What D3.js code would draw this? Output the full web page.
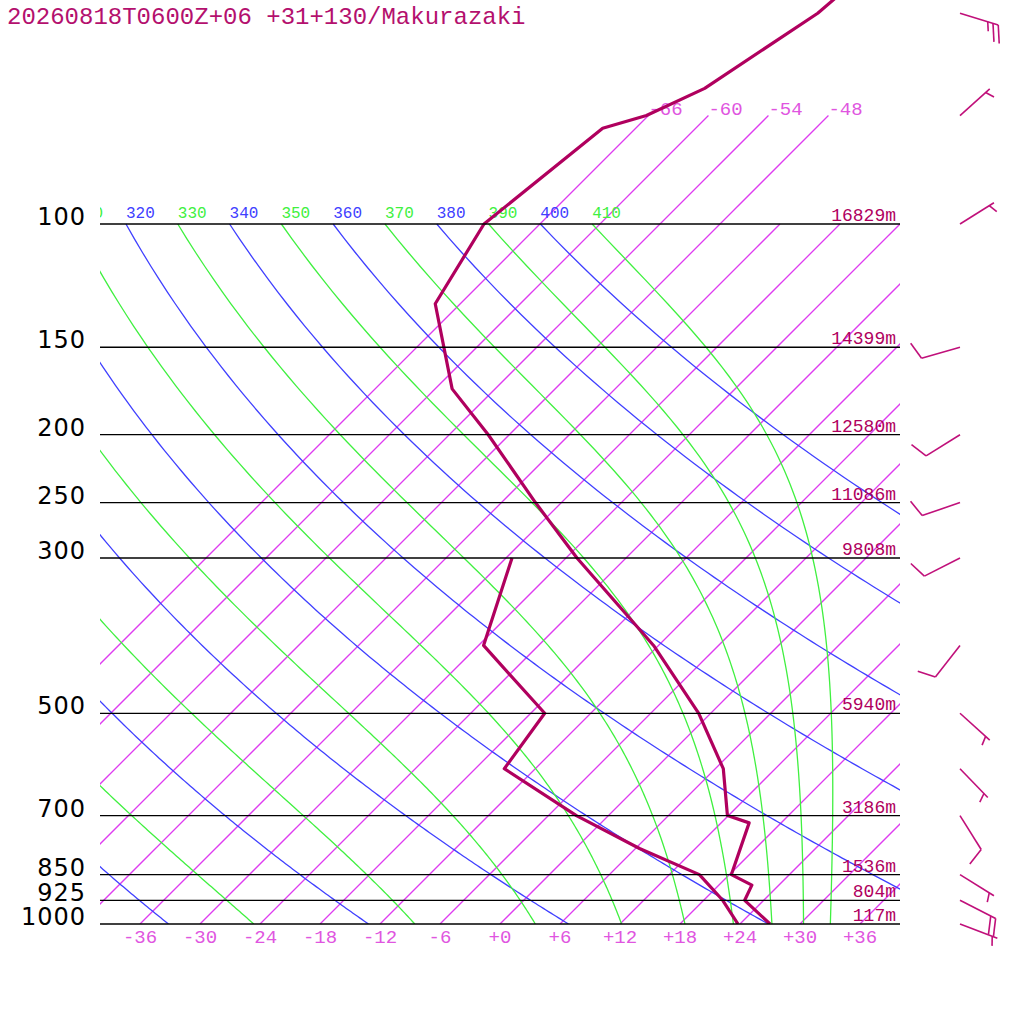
<!DOCTYPE html>
<html>
<head>
<meta charset="utf-8">
<script src="https://cdn.jsdelivr.net/npm/d3@7"></script>
<style>
  body { margin: 0; background: #fff; }
  text { font-family: "Liberation Mono", monospace; }
</style>
</head>
<body>
<div id="chart"></div>
<script>
// sounding data
const title = "20260818T0600Z+06 +31+130/Makurazaki";

const tempP = [1000, 925, 880, 850, 717, 700, 600, 500, 400, 300, 250, 200, 172, 130, 100, 73, 70, 64, 50, 30];
const tempT = [27.0, 22.1, 21.3, 18.2, 14.8, 11.9, 6.8, -1.2, -12.5, -28.9, -38.6, -50.1, -58.3, -68.5, -71.6, -69.3, -66.2, -63.1, -59.3, -56.8];

const dewP = [1000, 925, 850, 780, 700, 600, 500, 400, 300];
const dewT = [23.8, 19.9, 15.0, 6.4, -3.2, -15.1, -16.6, -29.5, -35.4];

const windP   = [1000, 925, 850, 700, 600, 500, 400, 300, 250, 200, 150, 100, 70, 50];
const windDir = [111, 117, 122, 148, 136, 132, 218, 243, 251, 238, 254, 58, 48, 107];
const windSpd = [5, 20, 5, 10, 5, 5, 10, 10, 10, 10, 10, 5, 5, 25];

// pressure lines and heights
const pLevels = [1000, 925, 850, 700, 500, 300, 250, 200, 150, 100];
const heights = ["117m", "804m", "1536m", "3186m", "5940m", "9808m", "11086m", "12580m", "14399m", "16829m"];

// background lines
const tempTicks = [-36, -30, -24, -18, -12, -6, 0, 6, 12, 18, 24, 30, 36];
const isotherms = [-66, -60, -54, -48, -42, -36, -30, -24, -18, -12, -6, 0, 6, 12, 18, 24, 30, 36];
const isoTop = [-66, -60, -54, -48];
const dryThetas = [240, 260, 280, 300, 320, 340, 360, 380, 400];
const moistThetas = [250, 270, 290, 310, 330, 350, 370, 390, 410];

const colCurve = "rgb(176, 0, 94)", colIso = "rgb(222, 60, 240)", colIsoTxt = "rgb(224, 85, 224)";
const colDry = "rgb(64, 64, 255)", colMoist = "rgb(64, 240, 64)", colBarb = "rgb(192, 16, 122)";

const W = 1024, H = 1024;
const left = 100, right = 900, bottom = 924, top100 = 224;

const svg = d3.select("#chart").append("svg")
    .attr("width", W).attr("height", H);

// 比例尺: log pressure, skewed temperature
const y = d3.scaleLog().domain([1000, 100]).range([bottom, top100]);
const xT = d3.scaleLinear().domain([-40, 40]).range([100, 900]);
const sx = (T, p) => xT(T) + (bottom - y(p));

const pathGen = d3.line().x(d => sx(d[1], d[0])).y(d => y(d[0]));

svg.append("clipPath").attr("id", "plot")
    .append("rect").attr("x", left).attr("y", -2000).attr("width", right - left).attr("height", 2000 + bottom);

const g = svg.append("g").attr("clip-path", "url(#plot)");

// isotherms
isotherms.forEach(t => {
    const pTop = isoTop.includes(t) ? 70 : 100;
    g.append("line")
        .attr("x1", sx(t, 1000)).attr("y1", y(1000))
        .attr("x2", sx(t, pTop)).attr("y2", y(pTop))
        .attr("stroke", colIso).attr("stroke-width", 1.3);
});
isoTop.forEach(t => {
    g.append("text").attr("x", sx(t, 70)).attr("y", y(70) - 1)
        .attr("font-size", 19).attr("fill", colIsoTxt)
        .text(t > 0 ? "+" + t : t);
});

// dry adiabats
const kappa = 0.2857;
const pSteps = d3.range(100, 1000.1, 5);
dryThetas.forEach(th => {
    const pts = pSteps.map(p => [p, th * Math.pow(p / 1000, kappa) - 273.15]);
    g.append("path").datum(pts).attr("d", pathGen).attr("fill", "none")
        .attr("stroke", colDry).attr("stroke-width", 1.3);
    const lx = sx(pts[0][1], 100);
    if (lx > 60) {
        g.append("text").attr("x", lx).attr("y", top100 - 6)
            .attr("font-size", 16).attr("fill", colDry).text(th);
    }
});

// moist adiabats, integrated downward from 100 hPa
function lapse(p, T) {
    const Tc = T - 273.15;
    const es = 6.112 * Math.exp(17.67 * Tc / (Tc + 243.5));
    const rs = 0.622 * es / (p - es);
    const Lv = 2.501e6, Rd = 287.04, Cp = 1005.7;
    return (Rd * T + Lv * rs) / (p * (Cp + Lv * Lv * rs * 0.622 / (Rd * T * T)));
}
moistThetas.forEach(th => {
    let T = th * Math.pow(0.1, kappa);
    const pts = [[100, T - 273.15]];
    const dp = 1;
    for (let p = 100; p < 1000; p += dp) {
        const k1 = lapse(p, T);
        const k2 = lapse(p + dp, T + k1 * dp);
        T += (k1 + k2) / 2 * dp;
        if ((p + dp) % 5 === 0) pts.push([p + dp, T - 273.15]);
    }
    g.append("path").datum(pts).attr("d", pathGen).attr("fill", "none")
        .attr("stroke", colMoist).attr("stroke-width", 1.3);
    const lx = sx(pts[0][1], 100);
    if (lx > 60) {
        g.append("text").attr("x", lx).attr("y", top100 - 6)
            .attr("font-size", 16).attr("fill", colMoist).text(th);
    }
});

// pressure lines
pLevels.forEach((p, i) => {
    svg.append("line").attr("x1", left).attr("x2", right)
        .attr("y1", y(p)).attr("y2", y(p))
        .attr("stroke", "#000").attr("stroke-width", 1.3);
    svg.append("text").attr("x", 86).attr("y", y(p) + 1)
        .attr("text-anchor", "end").attr("font-size", 24)
        .style("font-family", "'DejaVu Sans', sans-serif")
        .style("letter-spacing", "1px")
        .attr("fill", "#000").text(p);
    svg.append("text").attr("x", 896).attr("y", y(p) - 3)
        .attr("text-anchor", "end").attr("font-size", 18)
        .attr("fill", colCurve).text(heights[i]);
});

// temperature tick labels
tempTicks.forEach(t => {
    svg.append("text").attr("x", xT(t)).attr("y", bottom + 19)
        .attr("text-anchor", "middle").attr("font-size", 19)
        .attr("fill", colIsoTxt).text(t >= 0 ? "+" + t : t);
});

// sounding curves
const curves = g.append("g").attr("fill", "none").attr("stroke", colCurve)
    .attr("stroke-width", 3.2).attr("stroke-linejoin", "round");
curves.append("path").datum(tempP.map((p, i) => [p, tempT[i]])).attr("d", pathGen);
curves.append("path").datum(dewP.map((p, i) => [p, dewT[i]])).attr("d", pathGen);

// wind barbs
const bx = 960, staff = 40, step = 5.5, full = 18.5, half = 9.5;
windP.forEach((p, i) => {
    const a = windDir[i] * Math.PI / 180;
    const ux = Math.sin(a), uy = -Math.cos(a);
    const y0 = y(p);
    const tx = bx + ux * staff, ty = y0 + uy * staff;
    const wg = svg.append("g").attr("stroke", colBarb).attr("stroke-width", 1.6).attr("fill", "none");
    wg.append("line").attr("x1", bx).attr("y1", y0).attr("x2", tx).attr("y2", ty);
    const ang = Math.atan2(uy, ux) + 70 * Math.PI / 180;
    const bxd = Math.cos(ang), byd = Math.sin(ang);
    const s = windSpd[i];
    const nFull = Math.floor(s / 10), nHalf = Math.round((s % 10) / 5);
    let k = nFull === 0 ? 1 : 0;
    for (let j = 0; j < nFull + nHalf; j++) {
        const len = j < nFull ? full : half;
        const px = tx - ux * step * k, py = ty - uy * step * k;
        wg.append("line").attr("x1", px).attr("y1", py)
            .attr("x2", px + bxd * len).attr("y2", py + byd * len);
        k++;
    }
});

// title
svg.append("text").attr("x", 7).attr("y", 24)
    .attr("font-size", 24).attr("fill", "rgb(180, 16, 110)").text(title);
</script>
</body>
</html>
